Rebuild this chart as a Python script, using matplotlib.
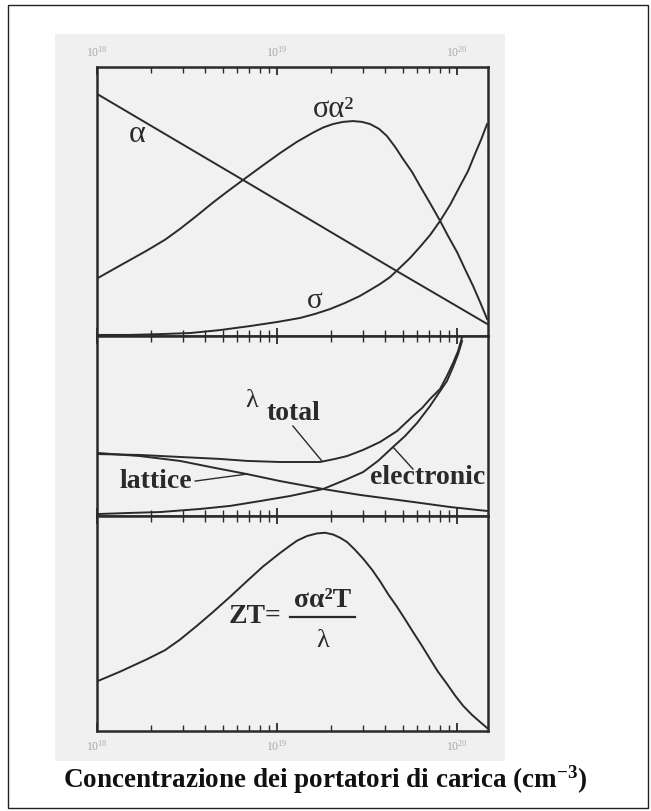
import numpy as np
import matplotlib
matplotlib.use('Agg')
import matplotlib.pyplot as plt
from matplotlib.patches import Rectangle
from matplotlib.lines import Line2D
from matplotlib.ticker import FixedLocator, FixedFormatter, LogLocator, NullFormatter

plt.rcParams['font.family'] = ['Liberation Serif', 'DejaVu Serif']
plt.rcParams['mathtext.fontset'] = 'custom'
plt.rcParams['mathtext.rm'] = 'Liberation Serif'
plt.rcParams['mathtext.it'] = 'Liberation Serif:italic'
plt.rcParams['mathtext.bf'] = 'Liberation Serif:bold'

# ---------------- data (log10 of carrier concentration, relative magnitude) ----
alpha_exp = [18.0, 18.811, 19.656, 20.167]
alpha_val = [0.90, 0.58, 0.245, 0.045]

pf_exp = [18.006, 18.128, 18.278, 18.378, 18.461, 18.556, 18.644, 18.728, 18.811,
          18.917, 19.017, 19.111, 19.2, 19.256, 19.311, 19.367, 19.422, 19.472,
          19.517, 19.567, 19.611, 19.656, 19.7, 19.75, 19.794, 19.85, 19.906,
          19.95, 20.0, 20.044, 20.089, 20.128, 20.167]
pf_val = [0.216, 0.262, 0.318, 0.358, 0.398, 0.448, 0.496, 0.539, 0.580,
          0.632, 0.680, 0.722, 0.756, 0.775, 0.788, 0.796, 0.799, 0.796,
          0.788, 0.770, 0.743, 0.703, 0.658, 0.610, 0.558, 0.494, 0.428,
          0.372, 0.312, 0.249, 0.186, 0.126, 0.063]

sig_exp = [18.006, 18.183, 18.35, 18.517, 18.683, 18.85, 19.0, 19.128, 19.211,
           19.294, 19.378, 19.461, 19.517, 19.572, 19.628, 19.683, 19.739, 19.794,
           19.85, 19.906, 19.961, 20.017, 20.061, 20.1, 20.133, 20.167]
sig_val = [0.004, 0.004, 0.007, 0.011, 0.022, 0.037, 0.052, 0.067, 0.082,
           0.100, 0.123, 0.149, 0.171, 0.193, 0.219, 0.254, 0.290, 0.331,
           0.375, 0.428, 0.487, 0.558, 0.613, 0.677, 0.729, 0.788]

lat_exp = [18.006, 18.239, 18.461, 18.656, 18.833, 19.017, 19.256, 19.461, 19.756,
           19.961, 20.167]
lat_val = [0.35, 0.333, 0.306, 0.267, 0.233, 0.194, 0.15, 0.117, 0.078, 0.05, 0.028]

ele_exp = [18.006, 18.183, 18.35, 18.572, 18.739, 18.906, 19.072, 19.256, 19.378,
           19.478, 19.561, 19.644, 19.711, 19.778, 19.85, 19.906, 19.944, 19.978,
           20.006, 20.028]
ele_val = [0.011, 0.017, 0.022, 0.039, 0.056, 0.083, 0.111, 0.15, 0.2,
           0.244, 0.306, 0.383, 0.444, 0.517, 0.611, 0.694, 0.75, 0.828,
           0.9, 0.972]

tot_exp = [18.006, 18.239, 18.461, 18.683, 18.833, 19.017, 19.239, 19.322, 19.389,
           19.478, 19.572, 19.667, 19.756, 19.806, 19.85, 19.906, 19.944, 19.978,
           20.006, 20.028]
tot_val = [0.344, 0.339, 0.328, 0.317, 0.306, 0.3, 0.3, 0.317, 0.333,
           0.367, 0.411, 0.472, 0.556, 0.6, 0.65, 0.706, 0.778, 0.85,
           0.917, 0.994]

zt_exp = [18.006, 18.128, 18.278, 18.378, 18.461, 18.556, 18.644, 18.739, 18.833,
          18.922, 19.017, 19.072, 19.111, 19.167, 19.222, 19.267, 19.311, 19.35,
          19.389, 19.433, 19.478, 19.528, 19.572, 19.617, 19.667, 19.711, 19.756,
          19.806, 19.85, 19.894, 19.944, 19.989, 20.033, 20.083, 20.128, 20.167]
zt_val = [0.233, 0.276, 0.334, 0.376, 0.425, 0.49, 0.553, 0.624, 0.697,
          0.765, 0.828, 0.862, 0.885, 0.907, 0.919, 0.922, 0.914, 0.899,
          0.879, 0.843, 0.802, 0.750, 0.697, 0.637, 0.577, 0.520, 0.460,
          0.395, 0.335, 0.276, 0.219, 0.165, 0.118, 0.075, 0.042, 0.014]

x_min_exp, x_max_exp = 18.0, 20.172
major_exps = [18, 19, 20]
tick_labels = [r'$10^{18}$', r'$10^{19}$', r'$10^{20}$']

# ---------------- figure ---------------------------------------------------------
W, H = 651, 812
fig = plt.figure(figsize=(W / 100, H / 100), dpi=100)
fig.patch.set_facecolor('white')

def fx(px):
    return px / W

def fy(py):
    return 1 - py / H

# outer border and gray background
fig.add_artist(Rectangle((fx(8), fy(809)), fx(648) - fx(8), fy(6) - fy(809),
                         transform=fig.transFigure, fill=False, ec='#222222', lw=1.0))
fig.add_artist(Rectangle((fx(55), fy(762)), fx(505) - fx(55), fy(35) - fy(762),
                         transform=fig.transFigure, fc='#f0f0f0', ec='none', zorder=0))

left, right = 97, 488
panels = [(68, 337), (337, 517), (517, 732)]
axes = []
for (t, b) in panels:
    ax = fig.add_axes([fx(left), fy(b), fx(right) - fx(left), fy(t) - fy(b)])
    ax.set_facecolor('#f1f1f1')
    ax.set_xscale('log')
    ax.set_xlim(10 ** x_min_exp, 10 ** x_max_exp)
    ax.set_ylim(0, 1)
    ax.set_yticks([])
    ax.xaxis.set_major_locator(FixedLocator([10.0 ** e for e in major_exps]))
    ax.xaxis.set_major_formatter(FixedFormatter(tick_labels))
    ax.xaxis.set_minor_locator(LogLocator(base=10, subs=np.arange(2, 10)))
    ax.xaxis.set_minor_formatter(NullFormatter())
    ax.tick_params(which='both', direction='in', top=True, bottom=True,
                   left=False, right=False, color='#2a2a2a',
                   labeltop=False, labelbottom=False, labelsize=8.5,
                   labelcolor='#a8a8a8')
    ax.tick_params(which='major', length=6, width=1.3)
    ax.tick_params(which='minor', length=4, width=1.0)
    for s in ax.spines.values():
        s.set_color('#2a2a2a')
        s.set_linewidth(1.8)
    axes.append(ax)

ax1, ax2, ax3 = axes
ax1.tick_params(which='major', labeltop=True, pad=6)
ax3.tick_params(which='major', labelbottom=True, pad=5)

lc = '#2a2a2a'
lw = 1.4

def n(e):
    return 10.0 ** np.asarray(e)

# top panel
ax1.plot(n(alpha_exp), alpha_val, color=lc, lw=lw)
ax1.plot(n(pf_exp), pf_val, color=lc, lw=lw)
ax1.plot(n(sig_exp), sig_val, color=lc, lw=lw)
ax1.text(0.102, 0.752, 'α', transform=ax1.transAxes, fontsize=23,
         ha='center', va='center', color=lc)
ax1.text(0.604, 0.845, 'σα²', transform=ax1.transAxes, fontsize=22,
         ha='center', va='center', color=lc)
ax1.text(0.558, 0.135, 'σ', transform=ax1.transAxes, fontsize=21,
         ha='center', va='center', color=lc)

# middle panel
ax2.plot(n(lat_exp), lat_val, color=lc, lw=lw)
ax2.plot(n(ele_exp), ele_val, color=lc, lw=lw)
ax2.plot(n(tot_exp), tot_val, color=lc, lw=lw)
ax2.text(0.396, 0.645, 'λ', transform=ax2.transAxes, fontsize=19,
         ha='center', va='center', color=lc)
ax2.text(0.503, 0.575, 'total', transform=ax2.transAxes, fontsize=20,
         fontweight='bold', ha='center', va='center', color=lc)
ax2.text(0.151, 0.195, 'lattice', transform=ax2.transAxes, fontsize=20,
         fontweight='bold', ha='center', va='center', color=lc)
ax2.text(0.845, 0.222, 'electronic', transform=ax2.transAxes, fontsize=20,
         fontweight='bold', ha='center', va='center', color=lc)
for (x0, y0, x1, y1) in [(0.501, 0.50, 0.575, 0.306),
                         (0.251, 0.194, 0.384, 0.233),
                         (0.808, 0.261, 0.757, 0.383)]:
    ax2.add_line(Line2D([x0, x1], [y0, y1], transform=ax2.transAxes,
                        color=lc, lw=1.0))

# bottom panel
ax3.plot(n(zt_exp), zt_val, color=lc, lw=lw)
ax3.text(0.405, 0.535, 'ZT=', transform=ax3.transAxes, fontsize=20,
         fontweight='bold', ha='center', va='center', color=lc)
ax3.text(0.577, 0.612, 'σα²T', transform=ax3.transAxes, fontsize=20,
         fontweight='bold', ha='center', va='center', color=lc)
ax3.add_line(Line2D([0.494, 0.66], [0.53, 0.53], transform=ax3.transAxes,
                    color=lc, lw=1.6))
ax3.text(0.577, 0.425, 'λ', transform=ax3.transAxes, fontsize=19,
         ha='center', va='center', color=lc)

fig.text(fx(325), fy(780), r'Concentrazione dei portatori di carica (cm$^{\mathbf{-3}}$)',
         fontsize=19.5, fontweight='bold', ha='center', va='center', color='#111111')

fig.savefig('out.png', dpi=100)
